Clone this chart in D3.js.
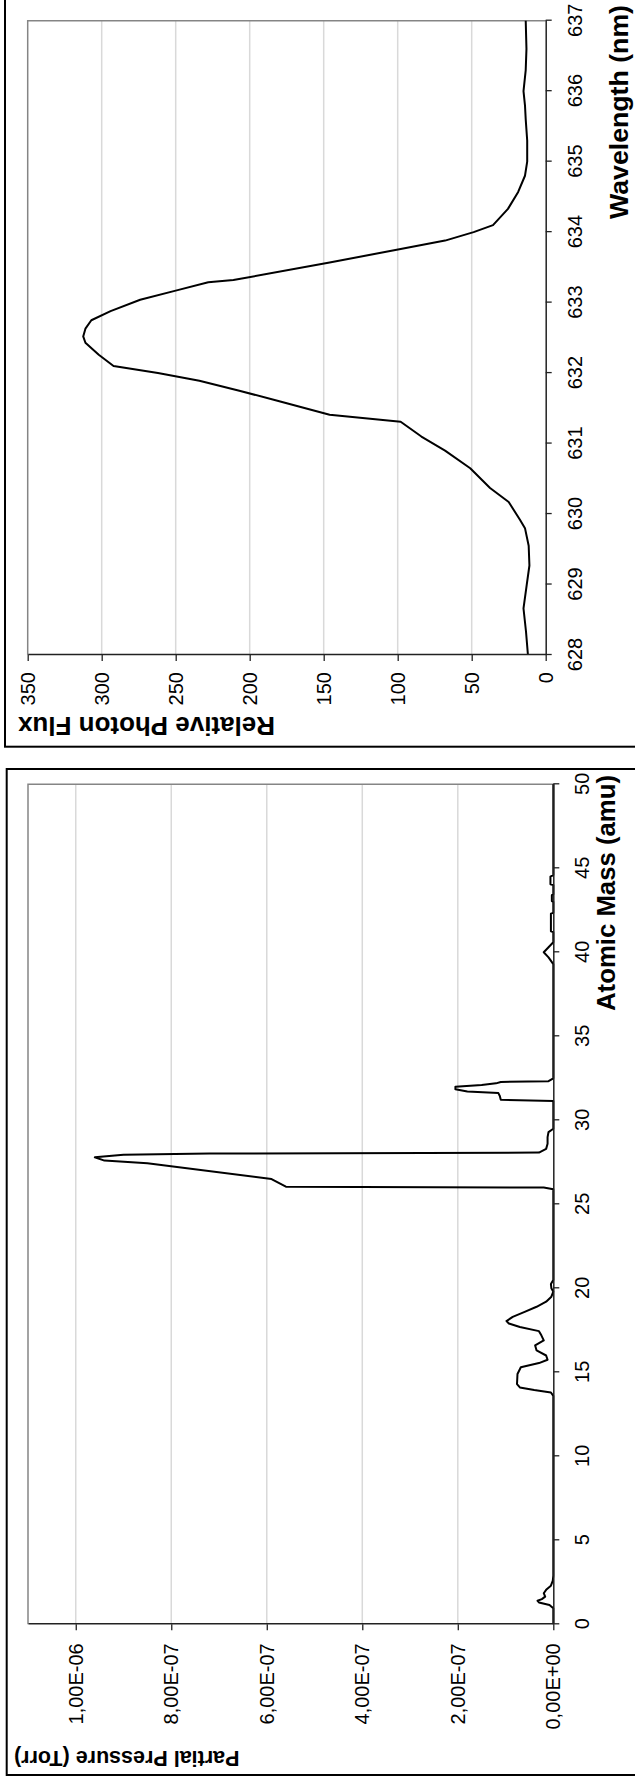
<!DOCTYPE html>
<html>
<head>
<meta charset="utf-8">
<script src="https://cdn.jsdelivr.net/npm/d3@7"></script>
<style>
  html, body { margin: 0; padding: 0; background: #ffffff; }
  svg { display: block; font-family: "Liberation Sans", Arial, Helvetica, sans-serif; }
</style>
</head>
<body>
<svg id="chart" width="635" height="1782"></svg>
<script>
// ---- Emission spectrum ----
const wavelengthNm = [628.0, 628.33, 628.66, 629.0, 629.27, 629.55, 629.8, 629.92, 630.17, 630.37,
  630.65, 630.9, 631.1, 631.31, 631.41, 631.6, 631.75, 631.89, 632.0, 632.1, 632.26, 632.43, 632.52,
  632.63, 632.75, 632.88, 633.04, 633.17, 633.29, 633.32, 633.57, 633.76, 633.88, 634.0, 634.1,
  634.33, 634.57, 634.8, 635.0, 635.3, 635.6, 635.8, 636.0, 636.3, 636.6, 637.0];
const photonFlux = [12, 13.3, 15, 12.8, 11, 11.5, 14, 17.4, 25, 37.6,
  51, 68, 84, 98, 146, 180, 207, 234, 262, 292, 302, 311, 312.5,
  311, 307, 294, 274, 250, 228, 211, 146, 98, 68, 48.7, 35.6,
  25.5, 18.6, 14, 12.5, 12.5, 13.5, 14, 15, 13.5, 13, 13.5];
const wavelengthTicks = [628, 629, 630, 631, 632, 633, 634, 635, 636, 637];
const fluxTicks = [0, 50, 100, 150, 200, 250, 300, 350];

// ---- Residual gas spectrum ----
const atomicMass = [0, 0.95, 1.15, 1.3, 1.4, 1.5, 1.65, 1.85, 2.05, 2.3, 2.6, 2.9,
  13.6, 13.8, 13.95, 14.1, 14.3, 14.9, 15.3, 15.55, 15.75, 16.0, 16.3, 16.6, 16.9, 17.2, 17.45,
  17.7, 17.9, 18.05, 18.3, 18.6, 18.9, 19.2, 19.5, 19.8, 20.0, 20.25, 20.5,
  25.9, 26.0, 26.05, 26.5, 27.45, 27.6, 27.8, 27.95, 28.02, 28.08, 28.3, 28.6, 29.0, 29.3, 29.5,
  31.15, 31.22, 31.45, 31.62, 31.72, 31.85, 32.0, 32.1, 32.2, 32.28, 32.33, 32.5,
  39.3, 39.7, 40.0, 40.3, 40.6,
  41.2, 41.25, 42.3, 42.35, 43.0, 43.05, 43.4, 43.45, 44.0, 44.05, 44.5, 44.6, 50];
const partialPressure = [0, 0, 8e-9, 3e-8, 3.3e-8, 2.4e-8, 1.7e-8, 2.0e-8, 1.5e-8, 5e-9, 1e-9, 0,
  0, 5e-9, 4e-8, 7e-8, 7.6e-8, 7.5e-8, 6.8e-8, 3e-8, 1.2e-8, 1.5e-8, 3.5e-8, 3.8e-8, 2e-8, 2.5e-8, 3e-8,
  7e-8, 9.3e-8, 9.8e-8, 8.5e-8, 6e-8, 3.5e-8, 1.5e-8, 4e-9, 0, 4e-9, 5e-9, 0,
  0, 2e-8, 5.6e-7, 5.9e-7, 8.5e-7, 9.4e-7, 9.6e-7, 9.0e-7, 7.2e-7, 3e-8, 1.5e-8, 1.2e-8, 1.2e-8, 1e-8, 0,
  0, 1.1e-7, 1.12e-7, 1.15e-7, 1.8e-7, 2.05e-7, 2.05e-7, 1.5e-7, 1.2e-7, 1.1e-7, 1e-8, 0,
  0, 1e-8, 2e-8, 1e-8, 0,
  0, 5e-9, 5e-9, 0, 0, 3e-9, 3e-9, 0, 0, 6e-9, 6e-9, 0, 0];
const massTicks = [0, 5, 10, 15, 20, 25, 30, 35, 40, 45, 50];
const pressureTicks = [0, 2e-7, 4e-7, 6e-7, 8e-7, 1e-6];
const pressureTickLabels = ["0,00E+00", "2,00E-07", "4,00E-07", "6,00E-07", "8,00E-07", "1,00E-06"];

// ---- Layout ----
// Both panels are laid out side by side in a landscape frame, and the frame is
// turned a quarter turn counter-clockwise to fit the portrait page.
const PAGE_H = 1782;
const svg = d3.select("#chart");
const frame = svg.append("g").attr("transform", `translate(0,${PAGE_H}) rotate(-90)`);

const TICK_FONT = 20;
const TITLE_FONT = 25;

function drawPanel(cfg) {
  const g = frame.append("g");
  const x = d3.scaleLinear().domain(cfg.xDomain).range(cfg.xRange);
  const y = d3.scaleLinear().domain(cfg.yDomain).range(cfg.yRange);

  // outer frame of the panel
  g.append("rect")
    .attr("x", cfg.box[0]).attr("y", cfg.box[1])
    .attr("width", cfg.box[2] - cfg.box[0]).attr("height", cfg.box[3] - cfg.box[1])
    .attr("fill", "#ffffff").attr("stroke", "#000000").attr("stroke-width", 2);

  const [x0, x1] = cfg.xRange;
  const [yb, yt] = cfg.yRange;

  // horizontal gridlines
  g.append("g").selectAll("line")
    .data(cfg.gridValues).join("line")
    .attr("x1", x0).attr("x2", x1)
    .attr("y1", d => y(d)).attr("y2", d => y(d))
    .attr("stroke", "#d9d9d9").attr("stroke-width", 1.5);

  // plot-area border (top and right)
  g.append("path")
    .attr("d", `M${x0},${yt}H${x1}V${yb}`)
    .attr("fill", "none").attr("stroke", "#858585").attr("stroke-width", 1.5);

  // data line
  const line = d3.line().x(d => x(d[0])).y(d => y(d[1]));
  g.append("path")
    .datum(d3.zip(cfg.xs, cfg.ys))
    .attr("d", line)
    .attr("fill", "none").attr("stroke", "#000000").attr("stroke-width", 2)
    .attr("stroke-linejoin", "round");

  // x axis
  const xAxis = g.append("g").attr("transform", `translate(0,${yb})`)
    .call(d3.axisBottom(x).tickValues(cfg.xTicks).tickFormat(d3.format("d"))
      .tickSize(6).tickSizeOuter(0).tickPadding(16));
  // y axis
  const yAxis = g.append("g").attr("transform", `translate(${x0},0)`)
    .call(d3.axisLeft(y).tickValues(cfg.yTicks).tickFormat(cfg.yFormat)
      .tickSize(6).tickSizeOuter(0).tickPadding(cfg.yPad));

  [xAxis, yAxis].forEach(a => {
    a.select(".domain").attr("stroke", "#222222").attr("stroke-width", 1.5);
    a.selectAll(".tick line").attr("stroke", "#222222").attr("stroke-width", 1.3);
    a.selectAll(".tick text").attr("fill", "#000000")
      .style("font-size", TICK_FONT + "px")
      .style("font-family", "'Liberation Sans', Arial, sans-serif");
  });

  // x axis title
  g.append("text")
    .attr("x", cfg.xTitle.x).attr("y", cfg.xTitle.y)
    .attr("text-anchor", "end")
    .attr("textLength", cfg.xTitle.len).attr("lengthAdjust", "spacingAndGlyphs")
    .style("font-size", TITLE_FONT + "px").style("font-weight", "bold")
    .text(cfg.xTitle.text);

  // y axis title
  const yt2 = g.append("text")
    .attr("transform", `translate(${cfg.yTitle.x},${cfg.yTitle.y}) rotate(-90)`)
    .attr("text-anchor", "end")
    .style("font-size", cfg.yTitle.size + "px").style("font-weight", "bold")
    .text(cfg.yTitle.text);
  if (cfg.yTitle.len) {
    yt2.attr("textLength", cfg.yTitle.len).attr("lengthAdjust", "spacingAndGlyphs");
  }
}

// Emission line panel (upper part of the page)
drawPanel({
  box: [1035.3, 5, 1800, 660],
  xDomain: [628, 637], xRange: [1127, 1761.3],
  yDomain: [0, 350], yRange: [545.7, 27.7],
  xs: wavelengthNm, ys: photonFlux,
  xTicks: wavelengthTicks, yTicks: fluxTicks,
  gridValues: fluxTicks.slice(1, -1),
  yFormat: d3.format("d"), yPad: 11,
  xTitle: { text: "Wavelength (nm)", x: 1777, y: 628, len: 214 },
  yTitle: { text: "Relative Photon Flux", x: 1065, y: 18, len: 257, size: 25 }
});

// Residual gas panel (lower part of the page)
drawPanel({
  box: [7, 6.7, 1013, 660],
  xDomain: [0, 50], xRange: [157.7, 997.7],
  yDomain: [0, 1.1e-6], yRange: [553.3, 28],
  xs: atomicMass, ys: partialPressure,
  xTicks: massTicks, yTicks: pressureTicks,
  gridValues: pressureTicks.slice(1),
  yFormat: (d, i) => pressureTickLabels[i], yPad: 13,
  xTitle: { text: "Atomic Mass (amu)", x: 1007, y: 615, len: 236 },
  yTitle: { text: "Partial Pressure (Torr)", x: 31, y: 14, size: 21.5 }
});
</script>
</body>
</html>
